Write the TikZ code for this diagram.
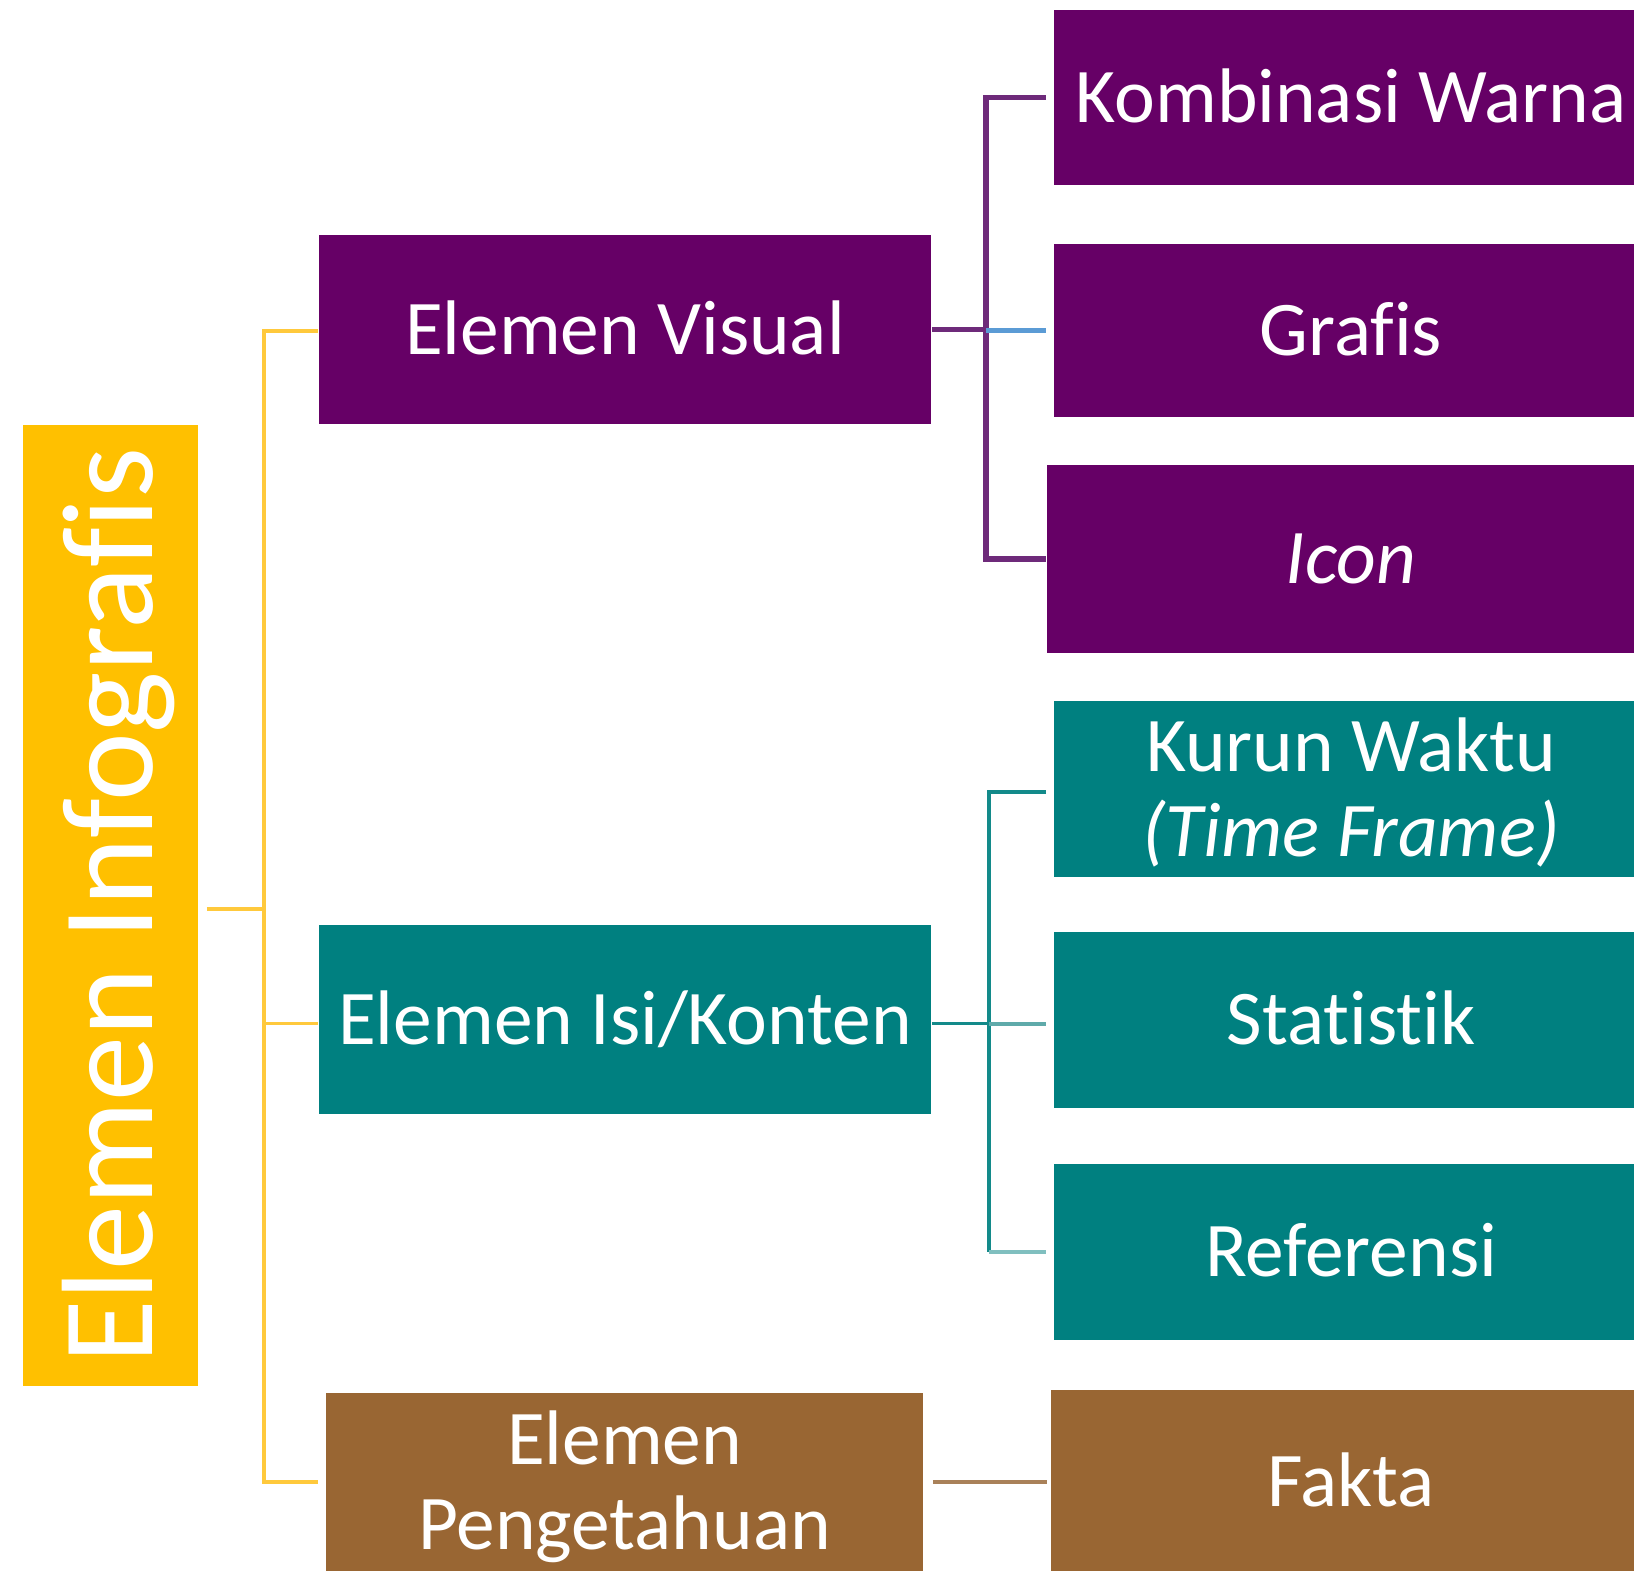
\documentclass[tikz,border=0pt]{standalone}
\usepackage{fontspec}
\setmainfont{Carlito}[Ligatures={NoCommon,NoContextual}]
\definecolor{cpurple}{HTML}{660066}
\definecolor{cteal}{HTML}{008080}
\definecolor{cbrown}{HTML}{996633}
\definecolor{cyellow}{HTML}{FFC000}
\definecolor{lyellow}{HTML}{FFC93C}
\definecolor{lpurple}{HTML}{6E2A7A}
\definecolor{lblue}{HTML}{5B9BD5}
\definecolor{lteal}{HTML}{138A8A}
\definecolor{lteal2}{HTML}{80BFBF}
\definecolor{lteal3}{HTML}{5FAAAA}
\definecolor{lbrown}{HTML}{A98159}
\begin{document}
\begin{tikzpicture}[x=0.01cm,y=-0.01cm,
  box/.style={fill=#1, draw=none, text=white, inner sep=0pt, align=center,
    font=\fontsize{22}{24}\selectfont, text height=14.2pt, text depth=0pt},
  twoline/.style={text height=38.2pt},
  yl/.style={draw=lyellow, line width=0.9pt},
  pl/.style={draw=lpurple, line width=1.5pt},
  bl/.style={draw=lblue, line width=1.2pt},
  tl/.style={draw=lteal, line width=1pt},
  brl/.style={draw=lbrown, line width=1.4pt}]
\useasboundingbox (0,0) rectangle (1634,1571);
% root
\node[box=cyellow, rotate=90, minimum width=9.61cm, minimum height=1.75cm,
  font=\fontsize{37}{44}\selectfont, text height=23.8pt] (root) at (110.5,905.5) {Elemen Infografis};
% level 1
\node[box=cpurple, minimum width=6.12cm, minimum height=1.89cm] (vis) at (625,329.5) {Elemen Visual};
\node[box=cteal, minimum width=6.12cm, minimum height=1.89cm] (isi) at (625,1019.5) {Elemen Isi/Konten};
\node[box=cbrown, twoline, minimum width=5.97cm, minimum height=1.78cm] (pen) at (624.5,1482) {Elemen\\Pengetahuan};
% level 2
\node[box=cpurple, minimum width=5.94cm, minimum height=1.75cm] (kom) at (1351,97.5) {Kombinasi Warna};
\node[box=cpurple, minimum width=5.94cm, minimum height=1.73cm] (gra) at (1351,330.5) {Grafis};
\node[box=cpurple, minimum width=6.08cm, minimum height=1.88cm] (ico) at (1351,559) {\textit{Icon}};
\node[box=cteal, twoline, minimum width=5.94cm, minimum height=1.76cm] (kur) at (1351,789) {Kurun Waktu\\\textit{(Time Frame)}};
\node[box=cteal, minimum width=5.94cm, minimum height=1.76cm] (sta) at (1351,1020) {Statistik};
\node[box=cteal, minimum width=5.94cm, minimum height=1.76cm] (ref) at (1351,1252) {Referensi};
\node[box=cbrown, minimum width=6.00cm, minimum height=1.84cm] (fak) at (1351,1482) {Fakta};
% trunks and junction points
\coordinate (ytk) at (264,0);
\coordinate (ptk) at (986,0);
\coordinate (ttk) at (989,0);
\coordinate (rj) at ([xshift=0.08cm,yshift=-0.035cm]root.south);
\coordinate (vj) at ([yshift=-0.015cm]vis.west);
\coordinate (ij) at ([yshift=-0.04cm]isi.west);
\coordinate (ie) at ([yshift=-0.04cm]isi.east);
\coordinate (sj) at ([xshift=-0.07cm,yshift=-0.04cm]sta.west);
\coordinate (kj) at ([xshift=-0.07cm,yshift=-0.03cm]kur.west);
% yellow connectors
\draw[yl] (rj) -- (rj -| ytk);
\draw[yl] (vj) -| (ytk |- pen.west) -- ([xshift=-0.07cm]pen.west);
\draw[yl] (ij) -- (ij -| ytk);
% purple connectors
\draw[pl] ([xshift=-0.07cm]kom.west) -| (ptk |- ico.west) -- (ico.west);
\draw[pl] (vis.east) -- (ptk |- vis.east);
\draw[bl] (ptk |- gra.west) -- ([xshift=-0.07cm]gra.west);
% teal connectors
\draw[tl] (kj) -| (ttk |- ref.west);
\draw[tl] (ie) -- (ie -| ttk);
\draw[draw=lteal3, line width=1pt] (sj -| ttk) -- (sj);
\draw[draw=lteal2, line width=1pt] (ttk |- ref.west) -- ([xshift=-0.07cm]ref.west);
% brown connector
\draw[brl] ([xshift=0.09cm]pen.east) -- ([xshift=-0.03cm]fak.west);
\end{tikzpicture}
\end{document}
